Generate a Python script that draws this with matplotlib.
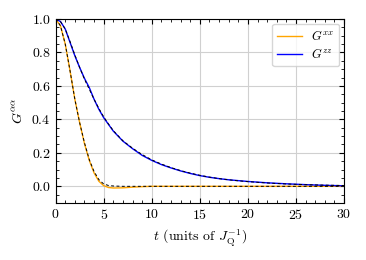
import matplotlib
matplotlib.use('Agg')
import matplotlib.pyplot as plt
from matplotlib.ticker import MultipleLocator

plt.rcParams['font.family'] = 'serif'
plt.rcParams['font.serif'] = ['cmr10']
plt.rcParams['mathtext.fontset'] = 'cm'
plt.rcParams['axes.formatter.use_mathtext'] = True
plt.rcParams['font.size'] = 10

# G^xx data (orange) and its fit (black dashed)
t_xx = [0, 0.5, 1.0, 1.5, 2.0, 2.5, 3.0, 3.5, 4.0, 4.5, 5.0, 5.5, 6.0, 7.0, 8.0, 9.0, 10.0, 15.0, 20.0, 25.0, 30.0]
g_xx = [1.0, 0.96, 0.85, 0.69, 0.52, 0.38, 0.255, 0.155, 0.08, 0.03, 0.004, -0.007, -0.01, -0.009, -0.005, -0.002, 0.0, 0.0, 0.0, 0.0, 0.0]
fit_xx = [1.0, 0.96, 0.85, 0.69, 0.52, 0.38, 0.26, 0.16, 0.088, 0.04, 0.014, 0.005, 0.002, 0.0, 0.0, 0.0, 0.0, 0.0, 0.0, 0.0, 0.0]

# G^zz data (blue) and its fit (black dashed)
t_zz = [0, 0.5, 1.0, 1.5, 2.0, 2.5, 3.0, 3.5, 4.0, 4.5, 5.0, 5.5, 6.0, 6.5, 7.0, 8.0, 9.0, 10.0,
        11.0, 12.0, 13.0, 14.0, 15.0, 16.0, 17.0, 18.0, 19.0, 20.0, 22.0, 24.0, 26.0, 28.0, 30.0]
g_zz = [1.0, 0.985, 0.94, 0.86, 0.78, 0.71, 0.645, 0.59, 0.52, 0.46, 0.41, 0.37, 0.33, 0.30, 0.27, 0.225, 0.185, 0.155,
        0.13, 0.11, 0.092, 0.077, 0.064, 0.054, 0.046, 0.039, 0.034, 0.029, 0.021, 0.015, 0.010, 0.006, 0.003]
fit_zz = [1.0, 0.985, 0.94, 0.865, 0.785, 0.71, 0.64, 0.58, 0.52, 0.465, 0.415, 0.372, 0.333, 0.302, 0.272, 0.228, 0.19, 0.158,
          0.133, 0.112, 0.094, 0.079, 0.066, 0.055, 0.046, 0.039, 0.033, 0.028, 0.020, 0.014, 0.010, 0.007, 0.005]

fig = plt.figure(figsize=(3.66, 2.6), dpi=100)
ax = fig.add_axes([0.152, 0.219, 0.788, 0.708])

ax.plot(t_xx, g_xx, color='orange', lw=1.0, label=r'$G^{xx}$')
ax.plot(t_zz, g_zz, color='blue', lw=1.0, label=r'$G^{zz}$')
ax.plot(t_xx, fit_xx, color='black', lw=0.7, ls=(0, (3, 2.5)))
ax.plot(t_zz, fit_zz, color='black', lw=0.7, ls=(0, (3, 2.5)))

ax.set_xlim(0, 30)
ax.set_ylim(-0.1, 1.0)
ax.xaxis.set_major_locator(MultipleLocator(5))
ax.xaxis.set_minor_locator(MultipleLocator(1))
ax.yaxis.set_major_locator(MultipleLocator(0.2))
ax.yaxis.set_minor_locator(MultipleLocator(0.05))
ax.tick_params(which='both', direction='in', top=True, right=True)
ax.tick_params(which='major', length=3.5, width=0.8)
ax.tick_params(which='minor', length=2, width=0.6)
ax.grid(True, which='major', color='#d0d0d0', lw=0.8)
ax.set_axisbelow(True)

ax.set_xlabel(r'$t$ (units of $J_\mathrm{Q}^{-1}$)')
ax.set_ylabel(r'$G^{\alpha\alpha}$')
ax.legend(loc='upper right', handlelength=2.0, fontsize=9, labelspacing=0.35,
          borderpad=0.4, handletextpad=0.7, borderaxespad=0.4)

fig.savefig('out.png', dpi=100)
